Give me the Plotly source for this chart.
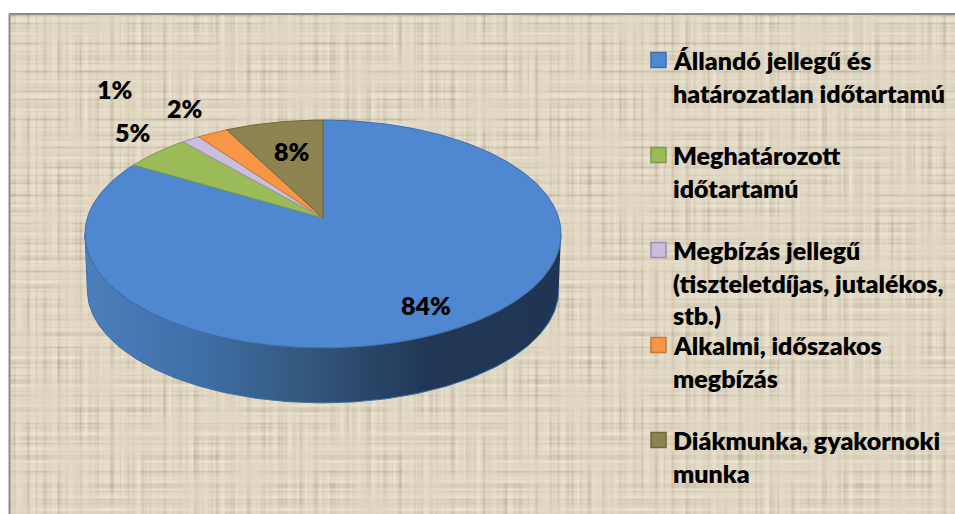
import numpy as np
import plotly.graph_objects as go

# chart values
categories = ["Állandó jellegű és<br>határozatlan időtartamú", "Meghatározott<br>időtartamú",
              "Megbízás jellegű<br>(tiszteletdíjas, jutalékos,<br>stb.)", "Alkalmi, időszakos<br>megbízás",
              "Diákmunka, gyakornoki<br>munka"]
values = [83.5, 5.1, 1.4, 2.4, 7.6]
colors = ["#4f88d1", "#9bbb59", "#c9bfdc", "#f79646", "#8c8350"]
borders = ["#3f6fa8", "#7d9a48", "#9a8fb0", "#c9773a", "#6f6840"]
label_text = ["84%", "5%", "1%", "2%", "8%"]
label_x = [426, 133, 115, 185, 292]
label_y = [305, 132, 89, 108, 151]
W, H = 955, 514
text_font = dict(size=25, color="black", weight=800)


def project(theta, level=0):
    # perspective tilt of the pie disc, theta clockwise from 12 o'clock
    s = 1 - 0.01 * level
    w = 1 + 0.14 * np.cos(theta)
    return (323 + 235.7 * s * np.sin(theta) / w,
            218 + 56.3 * level - 111.7 * s * np.cos(theta) / w)


# woven background built from stripes
xs = np.arange(10, W + 2, 2)
ys = np.arange(15, H + 2, 2)
X, Y = np.meshgrid(xs, ys)
warp = np.sin(X * 0.83) + np.sin(X * 0.37 + 1) + 0.7 * np.sin(X * 1.71) + 0.6 * np.sin(X * 0.59 + 2)
weft = np.sin(Y * 0.91 + 3) + np.sin(Y * 0.41) + 0.7 * np.sin(Y * 1.57) + 0.6 * np.sin(Y * 0.67 + 1)
blotch_a = 0.55 + 0.45 * np.sin(X * 0.047 + Y * 0.031) * np.sin(X * 0.023 - Y * 0.071 + 1)
blotch_b = 0.55 + 0.45 * np.sin(X * 0.037 - Y * 0.053 + 2) * np.sin(X * 0.071 + Y * 0.019)
cloth = warp * blotch_a + weft * blotch_b - 0.35 * np.abs(warp * weft) * blotch_a * blotch_b

fig = go.Figure()
fig.add_trace(go.Heatmap(x=xs, y=ys, z=cloth, zmin=-3.6, zmax=2.8, zsmooth="best", showscale=False,
                         hoverinfo="skip", colorscale=[[0, "#c0b59e"], [0.55, "#dfd6c2"], [1, "#efe8d8"]]))

# side wall of the blue slice
front = np.radians(np.linspace(98, 262, 165))
top_x, top_y = project(front)
low_x, low_y = project(front[::-1], 1)
fig.add_trace(go.Scatter(x=np.r_[top_x, low_x], y=np.r_[top_y, low_y], mode="lines", fill="toself",
                         line=dict(color="#3f6ea6", width=1), hoverinfo="skip",
                         fillgradient=dict(type="horizontal", start=85, stop=561, colorscale=[
                             [0, "#4c7fbc"], [0.25, "#3f6ea6"], [0.45, "#35597f"],
                             [0.72, "#203755"], [1, "#1f3553"]])))

# slices of the top face
start = 0.0
for value, color, border in zip(values, colors, borders):
    stop = start + value / sum(values) * 2 * np.pi
    rim = np.linspace(start, stop, max(int(value * 4), 3))
    rim_x, rim_y = project(rim)
    fig.add_trace(go.Scatter(x=np.r_[323, rim_x, 323], y=np.r_[218, rim_y, 218], mode="lines",
                             fill="toself", fillcolor=color, line=dict(color=border, width=1), hoverinfo="skip"))
    start = stop

# frame
fig.add_shape(type="line", x0=9.5, x1=9.5, y0=14, y1=H, line=dict(color="#8c8c8c", width=2))
fig.add_shape(type="line", x0=9, x1=W, y0=14, y1=14, line=dict(color="#8c8c8c", width=2))

for text, x, y in zip(label_text, label_x, label_y):
    fig.add_annotation(x=x, y=y, text=text, showarrow=False, font=text_font)

# legend by hand, the entries sit at an even pitch whatever their line count
legend_y = [60 + 95 * i for i in range(len(categories))]
fig.add_trace(go.Scatter(x=[658.5] * 5, y=legend_y, mode="markers", hoverinfo="skip",
                         marker=dict(symbol="square", size=15, color=colors, line=dict(color=borders, width=1.5))))
for name, y in zip(categories, legend_y):
    for i, line in enumerate(name.split("<br>")):
        fig.add_annotation(x=671, y=y + i * 32.7, text=line, showarrow=False, xanchor="left", font=text_font)

fig.update_layout(
    width=W, height=H, margin=dict(l=0, r=0, t=0, b=0), showlegend=False,
    paper_bgcolor="white", plot_bgcolor="white", font=dict(family="Lato, sans-serif"),
    xaxis=dict(range=[0, W], visible=False, fixedrange=True),
    yaxis=dict(range=[H, 0], visible=False, fixedrange=True),
)
fig.write_html("out.html", config=dict(displayModeBar=False),
               post_script="document.body.style.margin='0';document.body.style.overflow='hidden';")
